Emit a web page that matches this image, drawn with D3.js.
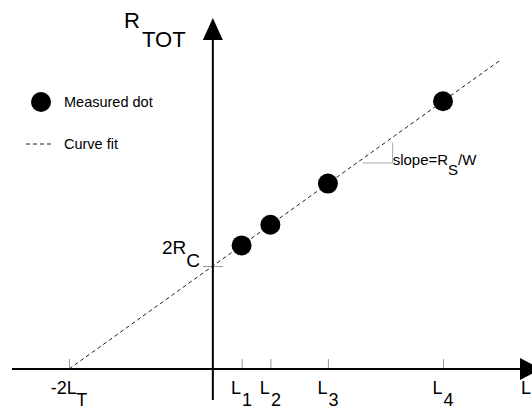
<!DOCTYPE html>
<html>
<head>
<meta charset="utf-8">
<script src="https://cdn.jsdelivr.net/npm/d3@7"></script>
<style>
  html, body { margin: 0; padding: 0; background: #fff; }
  svg { display: block; font-family: "Liberation Sans", Arial, Helvetica, sans-serif; }
</style>
</head>
<body>
<svg id="chart" width="532" height="410"></svg>
<script>
// ---- data ----
const measuredL = [1, 2, 4, 8];          // L1..L4
const measuredR = [6, 7, 9, 13];         // R_TOT at each L
const fitIntercept = 5;                  // 2R_C
const fitSlope = 1;                      // R_S / W
const fitXStart = -5;                    // -2L_T
const fitXEnd = 10;
const xTickValues = [-5, 1, 2, 4, 8];
const xTickMain = ["-2L", "L", "L", "L", "L"];
const xTickSub = ["T", "1", "2", "3", "4"];
const yTickValues = [5];
const yTickMain = ["2R"];
const yTickSub = ["C"];
const legendLabels = ["Measured dot", "Curve fit"];

// ---- layout ----
const svg = d3.select("#chart");
const x = d3.scaleLinear().domain([-5, 8]).range([69, 443]);
const y = d3.scaleLinear().domain([0, 15]).range([369, 60]);
const x0 = x(0), y0 = y(0);

// x axis (ticks upward, labels custom)
const xAxis = d3.axisTop(x).tickValues(xTickValues).tickSize(10).tickFormat("");
const gx = svg.append("g").attr("transform", `translate(0,${y0})`).call(xAxis);
gx.select(".domain").remove();
gx.selectAll(".tick line").attr("stroke", "#999").attr("stroke-width", 1);

// y axis tick (2R_C) as a horizontal tick centred on axis
const yAxis = d3.axisRight(y).tickValues(yTickValues).tickSize(20).tickFormat("");
const gy = svg.append("g").attr("transform", `translate(${x0 - 10},0)`).call(yAxis);
gy.select(".domain").remove();
gy.selectAll(".tick line").attr("stroke", "#999").attr("stroke-width", 1);

// axis lines with arrows
svg.append("line").attr("x1", 12).attr("x2", 521).attr("y1", y0).attr("y2", y0)
  .attr("stroke", "#000").attr("stroke-width", 2);
svg.append("path").attr("d", `M520,${y0 - 11}L541,${y0}L520,${y0 + 11}Z`).attr("fill", "#000");
svg.append("line").attr("x1", x0).attr("x2", x0).attr("y1", 38).attr("y2", 400)
  .attr("stroke", "#000").attr("stroke-width", 2);
svg.append("path").attr("d", `M${x0 - 10},40L${x0},18L${x0 + 10},40Z`).attr("fill", "#000");

// curve fit
svg.append("line")
  .attr("x1", x(fitXStart)).attr("y1", y(fitIntercept + fitSlope * fitXStart))
  .attr("x2", x(fitXEnd)).attr("y2", y(fitIntercept + fitSlope * fitXEnd))
  .attr("stroke", "#222").attr("stroke-width", 1).attr("stroke-dasharray", "4,3");

// slope annotation triangle
svg.append("path")
  .attr("d", `M${x(5.2)},${y(10)}L${x(6.25)},${y(10)}L${x(6.25)},${y(11)}`)
  .attr("fill", "none").attr("stroke", "#aaa").attr("stroke-width", 1);
const st = svg.append("text").attr("x", x(6.25) + 0).attr("y", y(10) + 2)
  .attr("font-size", 15).attr("fill", "#000");
st.append("tspan").text("slope=R");
st.append("tspan").attr("dy", 10).text("S");
st.append("tspan").attr("dy", -10).text("/W");

// measured dots
svg.append("g").selectAll("circle").data(measuredL).join("circle")
  .attr("cx", d => x(d)).attr("cy", (d, i) => y(measuredR[i])).attr("r", 10).attr("fill", "#000");

// x tick labels
xTickValues.forEach((v, i) => {
  const t = svg.append("text").attr("x", x(v)).attr("y", 394)
    .attr("text-anchor", "middle").attr("font-size", 18).attr("fill", "#000");
  t.append("tspan").text(xTickMain[i]);
  t.append("tspan").attr("dx", 1).attr("dy", 12).text(xTickSub[i]);
});

// y tick label
yTickValues.forEach((v, i) => {
  const t = svg.append("text").attr("x", 200).attr("y", y(v) - 12)
    .attr("text-anchor", "end").attr("font-size", 19).attr("fill", "#000");
  t.append("tspan").text(yTickMain[i]);
  t.append("tspan").attr("dy", 13).text(yTickSub[i]);
});

// axis titles
const yt = svg.append("text").attr("font-size", 22).attr("fill", "#000");
yt.append("tspan").attr("x", 124).attr("y", 28).text("R");
yt.append("tspan").attr("x", 142).attr("y", 47).text("TOT");
svg.append("text").attr("x", 521).attr("y", 394).attr("font-size", 18).attr("fill", "#000").text("L");

// legend
svg.append("circle").attr("cx", 41).attr("cy", 102).attr("r", 10).attr("fill", "#000");
svg.append("text").attr("x", 64).attr("y", 107).attr("font-size", 14.5).text(legendLabels[0]);
svg.append("line").attr("x1", 26).attr("x2", 51).attr("y1", 144).attr("y2", 144)
  .attr("stroke", "#222").attr("stroke-width", 1).attr("stroke-dasharray", "4,3");
svg.append("text").attr("x", 64).attr("y", 149).attr("font-size", 14.5).text(legendLabels[1]);
</script>
</body>
</html>
